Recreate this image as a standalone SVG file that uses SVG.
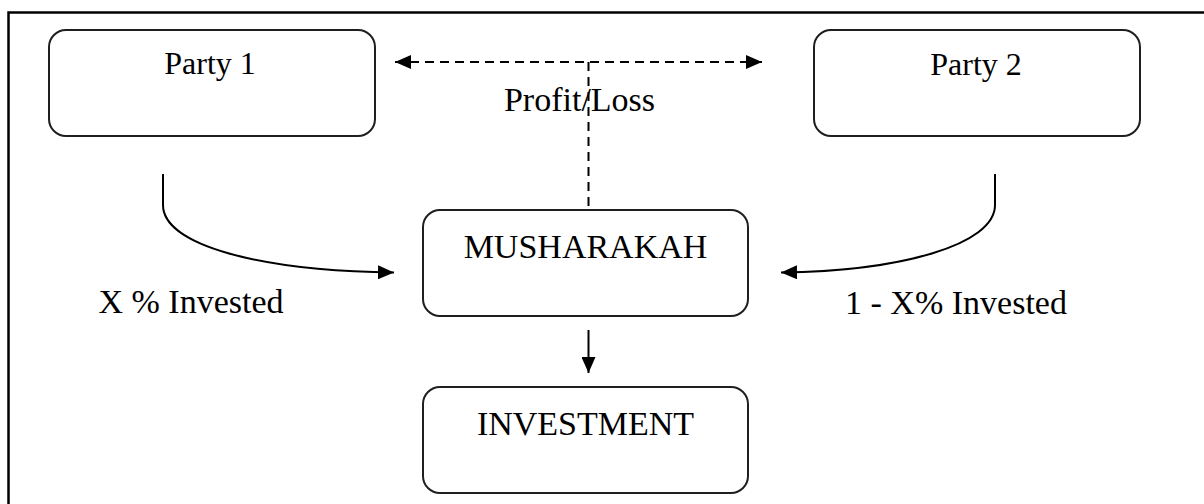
<svg xmlns="http://www.w3.org/2000/svg" width="1204" height="504" viewBox="0 0 1204 504">
  <style>
    .box { fill: #ffffff; stroke: #1f1f1f; stroke-width: 2; }
    .lbl { font-family: "Liberation Serif", "Times New Roman", serif; fill: #000000; text-anchor: middle; }
    .big { font-size: 34px; }
    .party { font-size: 32px; }
    .line { fill: none; stroke: #000000; stroke-width: 2; }
    .dash { fill: none; stroke: #000000; stroke-width: 2; stroke-dasharray: 9 6; }
  </style>
  <defs>
    <marker id="tri" viewBox="0 0 16 14" refX="16" refY="7" markerWidth="16" markerHeight="14" markerUnits="userSpaceOnUse" orient="auto-start-reverse">
      <path d="M0,0 L16,7 L0,14 Z" fill="#000000"/>
    </marker>
  </defs>

  <rect width="1204" height="504" fill="#ffffff"/>
  <!-- outer frame (top and left edges) -->
  <path d="M8.5,504 V12.5 H1204" fill="none" stroke="#000000" stroke-width="2.5"/>

  <g id="party1">
    <rect class="box" x="49" y="30" width="326" height="106" rx="17"/>
    <text class="lbl party" x="210" y="74">Party 1</text>
  </g>

  <g id="party2">
    <rect class="box" x="814" y="30" width="326" height="106" rx="17"/>
    <text class="lbl party" x="976" y="75">Party 2</text>
  </g>

  <g id="musharakah">
    <rect class="box" x="423" y="210" width="325" height="106" rx="17"/>
    <text class="lbl big" x="585.5" y="258">MUSHARAKAH</text>
  </g>

  <g id="investment">
    <rect class="box" x="423" y="387" width="325" height="106" rx="17"/>
    <text class="lbl big" x="585.5" y="435">INVESTMENT</text>
  </g>

  <g id="connectors">
    <!-- profit/loss sharing between the parties -->
    <path class="dash" d="M395,62 H762" marker-start="url(#tri)" marker-end="url(#tri)"/>
    <path class="dash" d="M588.5,62 V206"/>
    <!-- capital contributions -->
    <path class="line" d="M163,174 V205 C163,245 260,271 394,272.5" marker-end="url(#tri)"/>
    <path class="line" d="M995,174 V205 C995,245 900,271 781,272.5" marker-end="url(#tri)"/>
    <!-- musharakah to investment -->
    <path class="line" d="M588.5,330 V373" marker-end="url(#tri)"/>
  </g>

  <g id="labels">
    <text class="lbl big" x="579.5" y="111">Profit/Loss</text>
    <text class="lbl big" x="191" y="313">X % Invested</text>
    <text class="lbl big" x="956" y="314">1 - X% Invested</text>
  </g>
</svg>
